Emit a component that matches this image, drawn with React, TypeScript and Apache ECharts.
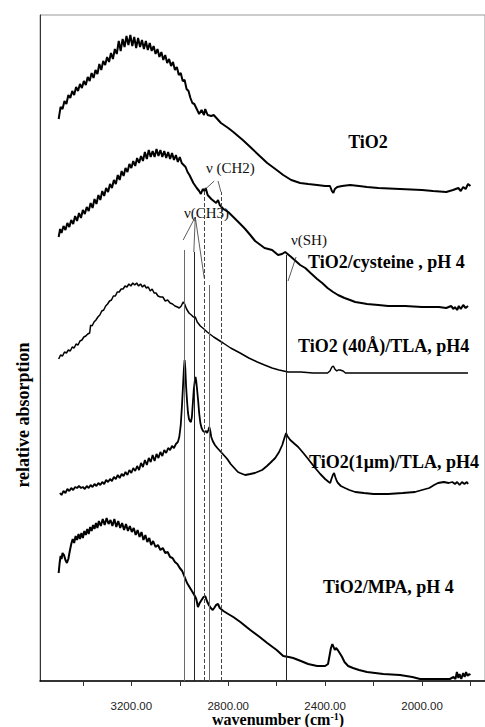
import React, { useEffect, useRef } from "react";
import * as echarts from "echarts";

// [wavenumber (cm-1), relative absorption (arb.)]
const tio2: number[][] = [
  [3500,562],[3492,574],[3484,572],[3476,580],[3468,577],[3460,586],[3452,583],[3444,590],[3436,586],[3428,594],
  [3420,590],[3412,597],[3404,593],[3396,600],[3388,596],[3380,604],[3372,600],[3364,608],[3356,603],[3348,611],
  [3340,607],[3332,617],[3324,611],[3316,620],[3308,616],[3300,624],[3292,619],[3284,628],[3276,622],[3268,632],
  [3260,627],[3252,640],[3244,630],[3236,642],[3228,634],[3220,645],[3212,636],[3204,646],[3196,635],[3188,644],
  [3180,633],[3172,643],[3164,634],[3156,641],[3148,632],[3140,640],[3132,631],[3124,638],[3116,630],[3108,635],
  [3100,627],[3092,632],[3084,624],[3076,629],[3068,621],[3060,626],[3052,618],[3044,622],[3036,615],[3028,619],
  [3020,611],[3012,614],[3004,606],[2996,608],[2988,600],[2980,601],[2972,592],[2964,590],[2956,583],[2948,578],
  [2940,577],[2930,572],[2920,567],[2910,571],[2900,566],[2895,572],[2885,566],[2870,565],[2860,566],[2845,562],
  [2830,558],[2800,553],[2779,549],[2740,541],[2709,534],[2670,525],[2639,518],[2600,511],[2573,506],[2540,501],
  [2503,498],[2470,497],[2433,496],[2400,495],[2380,495],[2372,490],[2366,488],[2360,492],[2350,494],[2330,495],
  [2297,496],[2260,495],[2227,494],[2180,493],[2091,492],[2000,491],[1955,490],[1900,489],[1872,491],[1850,493],
  [1840,490],[1830,494],[1820,492],[1810,497],[1800,495]
];

const cysteine: number[][] = [
  [3500,444],[3494,452],[3488,448],[3480,455],[3472,451],[3464,458],[3456,454],[3448,461],[3440,457],[3432,465],
  [3424,460],[3416,468],[3408,463],[3400,471],[3392,467],[3384,474],[3376,470],[3368,478],[3360,473],[3352,482],
  [3344,477],[3336,486],[3328,481],[3320,490],[3312,485],[3304,493],[3296,489],[3288,497],[3280,493],[3272,501],
  [3264,497],[3256,506],[3248,501],[3240,510],[3232,505],[3224,513],[3216,509],[3208,517],[3200,513],[3192,520],
  [3184,515],[3176,523],[3168,518],[3160,525],[3152,520],[3144,529],[3136,522],[3128,531],[3120,524],[3112,530],
  [3104,524],[3096,532],[3088,525],[3080,531],[3072,524],[3064,530],[3056,523],[3048,529],[3040,522],[3032,528],
  [3024,521],[3016,526],[3008,519],[3000,524],[2992,518],[2984,516],[2976,514],[2968,509],[2960,506],[2950,501],
  [2944,498],[2930,493],[2920,490],[2913,487],[2905,492],[2898,490],[2893,493],[2885,486],[2870,482],[2860,480],
  [2850,478],[2842,481],[2835,476],[2820,472],[2800,469],[2779,464],[2750,457],[2730,452],[2709,446],[2689,440],
  [2650,433],[2619,431],[2594,426],[2578,427],[2565,429],[2555,427],[2540,424],[2503,416],[2482,413],[2460,408],
  [2433,402],[2412,398],[2390,393],[2367,389],[2347,386],[2320,383],[2297,381],[2276,379],[2250,378],[2227,377],
  [2180,376],[2140,375],[2070,375],[2000,374],[1930,374],[1900,373],[1880,375],[1870,372],[1864,374],[1855,371],
  [1848,375],[1840,372],[1830,376],[1820,373],[1810,375]
];

const tla40: number[][] = [
  [3500,322],[3492,326],[3484,325],[3476,329],[3468,328],[3460,331],[3452,330],[3444,334],[3436,333],[3428,337],
  [3420,336],[3412,340],[3404,341],[3396,344],[3388,345],[3380,347],[3372,348],[3368,356],[3362,355],[3354,359],
  [3346,361],[3338,364],[3330,366],[3322,370],[3314,371],[3306,375],[3298,377],[3290,380],[3282,381],[3274,385],
  [3266,385],[3258,389],[3250,389],[3242,392],[3234,392],[3226,395],[3218,394],[3210,397],[3202,395],[3194,398],
  [3186,396],[3178,398],[3170,395],[3162,397],[3154,394],[3146,396],[3138,393],[3130,394],[3122,390],[3114,392],
  [3106,388],[3098,388],[3090,385],[3080,384],[3070,384],[3060,380],[3050,381],[3040,378],[3030,377],[3020,375],
  [3010,374],[3002,373],[2994,375],[2986,379],[2980,377],[2972,372],[2962,368],[2952,366],[2944,364],[2936,364],
  [2928,359],[2915,355],[2900,352],[2887,349],[2860,344],[2821,338],[2790,333],[2751,328],[2715,323],[2680,319],
  [2650,316],[2619,313],[2590,311],[2553,309],[2500,309],[2450,308],[2412,308],[2390,308],[2380,310],[2372,314],
  [2366,315],[2360,312],[2352,310],[2346,311],[2338,311],[2326,310],[2316,308],[2305,308],[2250,308],[2150,308],
  [2050,308],[1950,308],[1850,308],[1810,308]
];

const tla1um: number[][] = [
  [3495,188],[3488,186],[3480,190],[3472,188],[3464,192],[3456,190],[3448,193],[3440,191],[3432,194],[3424,193],
  [3416,195],[3408,193],[3400,194],[3392,192],[3384,195],[3376,193],[3368,196],[3360,194],[3352,197],[3344,195],
  [3336,198],[3328,196],[3320,199],[3312,197],[3304,201],[3296,199],[3288,202],[3280,200],[3272,204],[3264,202],
  [3256,206],[3248,203],[3240,207],[3232,205],[3224,209],[3216,206],[3208,211],[3200,208],[3192,213],[3184,210],
  [3176,215],[3168,211],[3160,218],[3152,214],[3144,221],[3136,216],[3128,223],[3120,219],[3112,226],[3104,220],
  [3096,227],[3088,223],[3080,229],[3072,225],[3064,231],[3056,228],[3048,233],[3040,231],[3032,235],[3024,233],
  [3016,237],[3008,239],[3002,244],[2996,256],[2991,275],[2986,298],[2983,312],[2980,321],[2977,312],[2974,295],
  [2970,280],[2966,268],[2962,262],[2958,260],[2954,259],[2950,264],[2946,278],[2942,292],[2938,300],[2935,304],
  [2932,300],[2928,290],[2924,280],[2920,268],[2915,258],[2910,253],[2904,250],[2898,249],[2892,250],[2887,248],
  [2882,251],[2878,254],[2874,250],[2870,244],[2864,240],[2855,236],[2845,233],[2830,229],[2815,225],[2804,222],
  [2790,217],[2775,213],[2760,209],[2751,208],[2730,206],[2709,207],[2690,208],[2680,209],[2660,211],[2640,215],
  [2627,218],[2606,223],[2590,229],[2577,236],[2568,243],[2561,248],[2556,245],[2550,243],[2544,241],[2530,238],
  [2511,234],[2490,228],[2470,222],[2441,213],[2420,207],[2400,202],[2385,199],[2379,198],[2374,202],[2368,206],
  [2363,208],[2358,204],[2352,200],[2347,198],[2335,195],[2318,193],[2300,191],[2276,189],[2240,188],[2200,187],
  [2140,187],[2080,188],[2029,189],[2000,191],[1970,193],[1950,196],[1934,198],[1910,199],[1890,198],[1875,199],
  [1864,197],[1855,199],[1845,196],[1835,199],[1825,197],[1815,199],[1810,197]
];

const mpa: number[][] = [
  [3500,108],[3496,118],[3492,125],[3488,122],[3484,128],[3478,126],[3472,121],[3466,118],[3460,122],[3454,130],
  [3448,137],[3442,142],[3436,138],[3430,145],[3424,141],[3418,147],[3412,142],[3406,148],[3400,143],[3394,150],
  [3388,146],[3382,152],[3376,147],[3370,154],[3364,150],[3358,156],[3352,152],[3346,158],[3340,153],[3334,160],
  [3326,155],[3318,162],[3310,156],[3302,163],[3294,157],[3286,161],[3278,155],[3270,162],[3262,154],[3254,160],
  [3246,153],[3238,158],[3230,151],[3222,157],[3214,150],[3206,155],[3198,149],[3190,153],[3182,146],[3174,151],
  [3166,144],[3158,149],[3150,141],[3142,146],[3134,139],[3126,143],[3118,136],[3110,140],[3100,134],[3090,136],
  [3080,131],[3070,133],[3060,128],[3050,129],[3040,124],[3030,123],[3020,119],[3010,117],[3000,113],[2990,110],
  [2980,104],[2970,98],[2960,94],[2950,90],[2940,86],[2932,82],[2925,74],[2918,78],[2910,81],[2902,84],
  [2895,85],[2888,80],[2880,76],[2872,73],[2864,71],[2858,73],[2850,76],[2842,77],[2835,73],[2820,70],
  [2800,67],[2779,64],[2750,59],[2709,51],[2670,44],[2639,38],[2600,31],[2573,25],[2550,24],[2532,23],
  [2500,20],[2470,17],[2433,15],[2400,15],[2388,17],[2382,25],[2376,33],[2370,37],[2365,34],[2360,31],
  [2355,33],[2348,31],[2340,28],[2330,24],[2320,19],[2305,15],[2285,13],[2260,11],[2227,9],[2160,7],
  [2091,6],[2040,4],[2008,2],[1960,2],[1920,2],[1885,2],[1870,4],[1862,2],[1856,9],[1850,3],
  [1845,7],[1838,2],[1830,8],[1824,4],[1818,9],[1812,5],[1806,7],[1800,6]
];

const labelTicks = [3200, 2800, 2400, 2000];
const minorTicks = [3400, 3200, 3000, 2800, 2600, 2400, 2200, 2000, 1800];

// reference (band) lines: wavenumber, top of line, style
const bandLines = [
  { wn: 2981, top: 431, type: "solid", color: "#6a6a6a" },
  { wn: 2940, top: 429, type: "solid", color: "#222" },
  { wn: 2898, top: 491, type: "dashed", color: "#444" },
  { wn: 2880, top: 396, type: "solid", color: "#6a6a6a" },
  { wn: 2830, top: 489, type: "dashed", color: "#444" },
  { wn: 2561, top: 426, type: "solid", color: "#222" },
];

// annotation leader segments [[wn,h],[wn,h]]
const leaders: number[][][] = [
  [[2858, 500], [2898, 491]],
  [[2842, 500], [2830, 489]],
  [[2936, 464], [2986, 441]],
  [[2936, 464], [2942, 429]],
  [[2936, 464], [2899, 403]],
  [[2520, 424], [2553, 400]],
];

const curveLabels = [
  { text: "TiO2", x: 368, y: 142, align: "center" },
  { text: "TiO2/cysteine , pH 4", x: 308, y: 262, align: "left" },
  { text: "TiO2 (40Å)/TLA, pH4", x: 298, y: 346, align: "left" },
  { text: "TiO2(1μm)/TLA, pH4", x: 309, y: 462, align: "left" },
  { text: "TiO2/MPA, pH 4", x: 323, y: 587, align: "left" },
];

const bandLabels = [
  { text: "ν (CH2)", x: 206, y: 168 },
  { text: "ν(CH3)", x: 184, y: 213 },
  { text: "ν(SH)", x: 291, y: 240 },
];

const SERIF = '"Liberation Serif", "Times New Roman", serif';

export default function App() {
  const ref = useRef<HTMLDivElement>(null);
  useEffect(() => {
    if (!ref.current) return;
    const chart = echarts.init(ref.current, undefined, { renderer: "svg" });
    const lineSeries = (name: string, data: number[][], w: number) => ({
      name,
      type: "line",
      data,
      showSymbol: false,
      symbol: "none",
      lineStyle: { color: "#000", width: w },
      silent: true,
      z: 3,
    });
    const markData: any[] = [];
    bandLines.forEach((b) => {
      markData.push([
        { coord: [b.wn, 0], lineStyle: { color: b.color, type: b.type, width: 1 } },
        { coord: [b.wn, b.top] },
      ]);
    });
    leaders.forEach((l) => {
      markData.push([
        { coord: l[0], lineStyle: { color: "#333", type: "solid", width: 0.8 } },
        { coord: l[1] },
      ]);
    });
    chart.setOption({
      animation: false,
      grid: {
        left: 40,
        right: 0,
        top: 15,
        bottom: 46,
        show: true,
        borderColor: "#999",
        borderWidth: 1,
      },
      xAxis: {
        type: "value",
        inverse: true,
        min: 1740,
        max: 3577,
        splitLine: { show: false },
        axisLine: { show: true, lineStyle: { color: "#000", width: 1.5 } },
        axisTick: {
          show: true,
          customValues: minorTicks,
          length: 5,
          lineStyle: { color: "#333" },
        },
        axisLabel: {
          customValues: labelTicks,
          formatter: (v: number) => v.toFixed(2),
          fontFamily: '"Liberation Sans", Arial, sans-serif',
          fontSize: 11.5,
          color: "#222",
          margin: 19,
        },
      },
      yAxis: {
        type: "value",
        min: 0,
        max: 666,
        splitLine: { show: false },
        axisLine: { show: true, lineStyle: { color: "#333", width: 1 } },
        axisTick: { show: false },
        axisLabel: { show: false },
      },
      series: [
        lineSeries("TiO2", tio2, 2),
        lineSeries("TiO2/cysteine", cysteine, 2),
        lineSeries("TiO2 (40Å)/TLA", tla40, 1.5),
        lineSeries("TiO2(1μm)/TLA", tla1um, 1.8),
        lineSeries("TiO2/MPA", mpa, 2),
        {
          type: "line",
          data: [],
          silent: true,
          z: 2,
          markLine: {
            silent: true,
            symbol: ["none", "none"],
            label: { show: false },
            data: markData,
          },
        },
      ],
      graphic: [
        ...curveLabels.map((c) => ({
          type: "text",
          x: c.x,
          y: c.y,
          style: {
            text: c.text,
            font: `bold 18px ${SERIF}`,
            fill: "#000",
            textAlign: c.align,
            textVerticalAlign: "middle",
          },
        })),
        ...bandLabels.map((c) => ({
          type: "text",
          x: c.x,
          y: c.y,
          style: {
            text: c.text,
            font: `15px ${SERIF}`,
            fill: "#111",
            textAlign: "left",
            textVerticalAlign: "middle",
          },
        })),
        {
          type: "text",
          x: 23,
          y: 415,
          rotation: Math.PI / 2,
          style: {
            text: "relative absorption",
            font: `bold 18px ${SERIF}`,
            fill: "#000",
            textAlign: "center",
            textVerticalAlign: "middle",
          },
        },
        {
          type: "text",
          x: 278,
          y: 719,
          style: {
            text: "{a|wavenumber (cm}{b|-1}{a|)}",
            fill: "#000",
            textAlign: "center",
            textVerticalAlign: "middle",
            rich: {
              a: { font: `bold 16px ${SERIF}`, fill: "#000" },
              b: { font: `bold 10px ${SERIF}`, fill: "#000", verticalAlign: "top" },
            },
          },
        },
      ],
    });
    return () => chart.dispose();
  }, []);
  return (
    <div
      ref={ref}
      style={{ position: "fixed", left: 0, top: 0, width: 485, height: 727, background: "#fff" }}
    />
  );
}
